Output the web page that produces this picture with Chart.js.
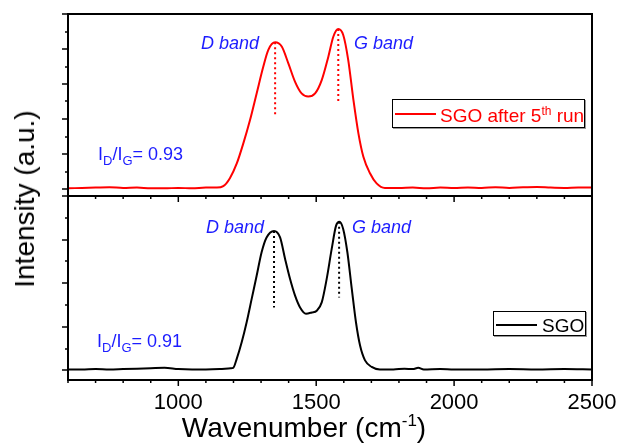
<!DOCTYPE html>
<html>
<head>
<meta charset="utf-8">
<script src="https://cdn.jsdelivr.net/npm/chart.js@4.4.1/dist/chart.umd.min.js"></script>
<style>
  body { margin: 0; background: #fff; }
  #wrap { position: relative; width: 620px; height: 448px; font-family: Arial, "Liberation Sans", sans-serif; }
  #c { position: absolute; left: 0; top: 0; }
  .lbl { position: absolute; line-height: 1; white-space: nowrap; transform: translateY(-50%); }
  .band { color: #1c1cff; font-size: 18px; font-style: italic; }
  .ratio { color: #1c1cff; font-size: 18px; }
  .ratio sub { font-size: 13px; position: relative; top: 5px; vertical-align: baseline; }
  .legend { position: absolute; box-sizing: border-box; border: 1px solid #000; box-shadow: 1px 1px 0 #999; background: #fff; }
  .legend .mark { position: absolute; height: 2px; }
  .legend .txt { position: absolute; font-size: 19px; line-height: 1; white-space: nowrap; transform: translateY(-50%); }
  .legend sup { font-size: 12px; position: relative; top: -7px; vertical-align: baseline; }
  .axt { position: absolute; font-size: 28px; line-height: 1; white-space: nowrap; color: #000; }
  .axt sup { font-size: 17px; position: relative; top: -11px; vertical-align: baseline; }
</style>
</head>
<body>
<div id="wrap">
  <canvas id="c" width="620" height="448"></canvas>

  <div class="lbl band" style="left:201px; top:43px;">D band</div>
  <div class="lbl band" style="left:354px; top:43px;">G band</div>
  <div class="lbl ratio" style="left:98px; top:154px;">I<sub>D</sub>/I<sub>G</sub>= 0.93</div>

  <div class="lbl band" style="left:206px; top:227px;">D band</div>
  <div class="lbl band" style="left:352px; top:227px;">G band</div>
  <div class="lbl ratio" style="left:97px; top:341px;">I<sub>D</sub>/I<sub>G</sub>= 0.91</div>

  <div class="legend" style="left:392px; top:99px; width:193px; height:29px;">
    <div class="mark" style="left:2px; top:13px; width:41px; background:#ff0000;"></div>
    <div class="txt" style="left:47px; top:15px; color:#ff0000;">SGO after 5<sup>th</sup> run</div>
  </div>
  <div class="legend" style="left:493px; top:311px; width:93px; height:25px;">
    <div class="mark" style="left:2px; top:12px; width:41px; background:#000;"></div>
    <div class="txt" style="left:48px; top:13px; color:#000;">SGO</div>
  </div>

  <div class="axt" style="left:304px; top:428px; transform:translate(-50%,-50%);">Wavenumber (cm<sup>-1</sup>)</div>
  <div class="axt" style="left:25px; top:199px; transform:translate(-50%,-50%) rotate(-90deg);">Intensity (a.u.)</div>
</div>

<script>
// x axis labels
const xTicks = [1000, 1500, 2000, 2500];

// SGO after 5th run (top panel)
const wnTop = [600,650,700,750,800,850,900,950,1000,1050,1100,1140,1163,1187,1212,1236,1260,1284,1308,1326,1351,1375,1399,1423,1447,1471,1496,1520,1544,1562,1580,1598,1616,1635,1653,1671,1695,1719,1749,1800,1850,1900,1950,2000,2050,2100,2150,2200,2250,2300,2350,2400,2450,2500];
const intTop = [0.02,0.03,0.04,0.05,0.03,0.04,0.02,0.02,0.03,0.02,0.04,0.04,0.08,0.31,0.73,1.31,1.97,2.73,3.49,3.97,4.19,4.07,3.59,3.07,2.73,2.64,2.73,3.11,3.78,4.35,4.57,4.40,3.69,2.54,1.59,0.92,0.45,0.16,0.03,0.03,0.04,0.02,0.04,0.03,0.04,0.03,0.05,0.03,0.05,0.06,0.04,0.03,0.04,0.04];

// SGO (bottom panel)
const wnBot = [600,650,700,750,800,850,900,950,1000,1050,1100,1150,1190,1199,1212,1230,1248,1266,1284,1302,1320,1347,1369,1387,1405,1423,1441,1463,1484,1502,1520,1538,1556,1572,1584,1598,1613,1629,1644,1659,1677,1701,1731,1780,1820,1850,1870,1890,1950,2000,2100,2200,2300,2400,2500];
const intBot = [0.02,0.02,0.03,0.02,0.03,0.04,0.05,0.06,0.03,0.02,0.02,0.03,0.05,0.06,0.27,0.65,1.11,1.64,2.17,2.71,3.05,3.20,3.05,2.56,2.10,1.72,1.45,1.30,1.33,1.37,1.56,2.10,2.78,3.32,3.41,3.24,2.71,1.87,1.11,0.57,0.23,0.08,0.02,0.02,0.04,0.03,0.06,0.02,0.03,0.02,0.02,0.03,0.02,0.03,0.02];

// band markers: position, peak value, lower end of the dotted line
const bandTopPos = [1351, 1580];
const bandTopPeak = [4.19, 4.57];
const bandTopEnd = [2.06, 2.43];
const bandBotPos = [1347, 1583];
const bandBotPeak = [3.20, 3.41];
const bandBotEnd = [1.44, 1.67];

const pts = (xs, ys) => xs.map((x, i) => ({x, y: ys[i]}));

function bandSets(pos, peak, end, color, axis){
  return pos.map((p, i) => ({
    data: [{x: p, y: peak[i]}, {x: p, y: end[i]}],
    yAxisID: axis, borderColor: color, borderWidth: 2, borderDash: [2, 3],
    cubicInterpolationMode: 'default', tension: 0
  }));
}

const frame = {
  id: 'frame',
  afterDraw(chart){
    const {ctx, chartArea: a, scales} = chart;
    const x = scales.x;
    ctx.save();
    ctx.strokeStyle = '#000';
    [scales.yTop, scales.yBot].forEach(s => {
      ctx.lineWidth = 1.5;
      for (let v = Math.ceil(s.min * 2) / 2; v <= s.max + 1e-6; v += 0.5) {
        const y = Math.round(s.getPixelForValue(v));
        const len = Number.isInteger(v) ? 6 : 3;
        ctx.beginPath(); ctx.moveTo(a.left, y); ctx.lineTo(a.left - len, y); ctx.stroke();
      }
      for (let v = 600; v <= 2500; v += 100) {
        const px = x.getPixelForValue(v);
        const len = v % 500 === 0 ? 6 : 3;
        ctx.beginPath(); ctx.moveTo(px, s.bottom); ctx.lineTo(px, s.bottom + len); ctx.stroke();
      }
      ctx.lineWidth = 2;
      ctx.strokeRect(a.left, s.top, a.right - a.left, s.bottom - s.top);
    });
    ctx.restore();
  }
};

const noGrid = {display: false, drawTicks: false};

new Chart(document.getElementById('c'), {
  type: 'line',
  data: {
    datasets: [
      {data: pts(wnTop, intTop), yAxisID: 'yTop', borderColor: '#ff0000', borderWidth: 2},
      {data: pts(wnBot, intBot), yAxisID: 'yBot', borderColor: '#000000', borderWidth: 2},
      ...bandSets(bandTopPos, bandTopPeak, bandTopEnd, '#ff0000', 'yTop'),
      ...bandSets(bandBotPos, bandBotPeak, bandBotEnd, '#000000', 'yBot')
    ]
  },
  options: {
    responsive: false,
    animation: false,
    layout: {padding: {left: 68, right: 28, top: 14, bottom: 0}},
    plugins: {legend: {display: false}, tooltip: {enabled: false}},
    elements: {point: {radius: 0}, line: {cubicInterpolationMode: 'monotone'}},
    scales: {
      x: {
        type: 'linear', min: 600, max: 2500,
        grid: noGrid, border: {display: false},
        afterBuildTicks: s => { s.ticks = xTicks.map(v => ({value: v})); },
        afterFit: s => { s.height = 68; s.paddingLeft = 0; s.paddingRight = 0; },
        ticks: {color: '#000', padding: 10, font: {family: 'Arial, "Liberation Sans"', size: 22}, callback: v => String(v)}
      },
      // stacked panels: the first one listed sits at the bottom
      yBot: {
        type: 'linear', position: 'left', stack: 'panels', stackWeight: 184,
        min: -0.22, max: 4,
        grid: noGrid, border: {display: false}, ticks: {display: false},
        afterFit: s => { s.width = 0; }
      },
      yTop: {
        type: 'linear', position: 'left', stack: 'panels', stackWeight: 182,
        min: -0.2, max: 5,
        grid: noGrid, border: {display: false}, ticks: {display: false},
        afterFit: s => { s.width = 0; }
      }
    }
  },
  plugins: [frame]
});
</script>
</body>
</html>
